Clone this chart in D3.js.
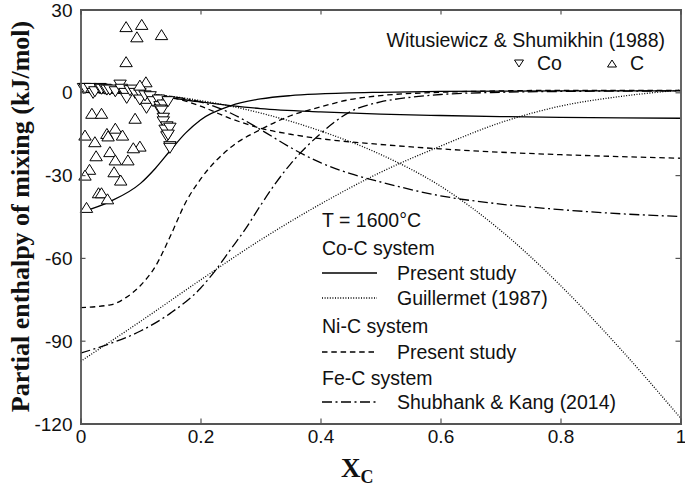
<!DOCTYPE html>
<html lang="en">
<head>
    <meta charset="UTF-8">
    <title>Partial enthalpy of mixing</title>
    <script src="https://d3js.org/d3.v7.min.js"></script>
    <style>
        body { margin: 0; background: #fff; }
        svg { display: block; }
        .tick-label { font: 19px "Liberation Sans", Arial, sans-serif; fill: #111; }
        .legend-text { font: 19.5px "Liberation Sans", Arial, sans-serif; fill: #111; }
        .axis-title { font-family: "Liberation Serif", "Times New Roman", serif; font-weight: bold; fill: #111; }
        .curve { fill: none; stroke: #000; stroke-width: 1.3; }
        .marker { fill: #fff; stroke: #000; stroke-width: 1; }
    </style>
</head>
<body>
<svg id="chart" width="685" height="492"></svg>
<script>
    // axis ticks
    const xTicks = [0, 0.2, 0.4, 0.6, 0.8, 1];
    const yTicks = [30, 0, -30, -60, -90, -120];

    // Co-C, present study (solid)
    const coPresentC  = [[0,-43.5],[0.05,-39.5],[0.1,-33],[0.125,-27.5],[0.15,-21],[0.175,-14.8],[0.2,-10],[0.25,-4.9],[0.3,-2.4],[0.35,-1.2],[0.4,-0.6],[0.5,0],[0.6,0.3],[0.8,0.5],[1,0.5]];
    const coPresentCo = [[0,0],[0.05,-0.2],[0.1,-0.8],[0.15,-2],[0.2,-3.5],[0.25,-4.8],[0.3,-5.9],[0.4,-7.1],[0.5,-7.9],[0.6,-8.4],[0.7,-8.8],[0.8,-9.1],[0.9,-9.3],[1,-9.4]];
    // Co-C, Guillermet (1987) (dotted)
    const guillermetC  = [[0,-97.5],[0.1,-83],[0.2,-68],[0.3,-53.5],[0.4,-40.5],[0.5,-29],[0.6,-19.5],[0.7,-11],[0.8,-5],[0.9,-1.5],[1,0.8]];
    const guillermetCo = [[0,0],[0.1,-0.5],[0.2,-3],[0.3,-7.5],[0.4,-14],[0.5,-22.5],[0.6,-34],[0.7,-50],[0.8,-70],[0.9,-93],[1,-118]];
    // Ni-C, present study (dashed)
    const niPresentC  = [[0,-78],[0.05,-77],[0.075,-74.5],[0.1,-70],[0.125,-63],[0.15,-52],[0.175,-40],[0.2,-31.5],[0.25,-20],[0.3,-13.5],[0.35,-8.5],[0.4,-5.3],[0.45,-2.6],[0.5,-1.2],[0.6,0],[0.7,0.5],[0.8,0.7],[1,0.7]];
    const niPresentNi = [[0,0],[0.05,-0.2],[0.1,-0.6],[0.15,-1.8],[0.2,-5],[0.25,-9.5],[0.3,-13],[0.35,-15.2],[0.4,-16.8],[0.5,-18.9],[0.6,-20.5],[0.7,-21.7],[0.8,-22.6],[0.9,-23.3],[1,-23.9]];
    // Fe-C, Shubhank & Kang (2014) (dash-dot)
    const feShubhankC  = [[0,-94.5],[0.05,-91],[0.1,-86.5],[0.15,-80],[0.2,-71],[0.225,-64.5],[0.25,-57],[0.275,-49.5],[0.3,-41],[0.325,-33],[0.35,-26],[0.4,-15],[0.45,-7],[0.5,-3.5],[0.55,-1.8],[0.6,-0.8],[0.7,0],[0.8,0.3],[1,0.5]];
    const feShubhankFe = [[0,0],[0.1,-0.5],[0.15,-1.5],[0.2,-3.5],[0.25,-7.5],[0.3,-13.5],[0.35,-20],[0.4,-25.5],[0.45,-29.5],[0.5,-32.5],[0.6,-37.5],[0.7,-40.5],[0.8,-42.5],[0.9,-44],[1,-45]];

    // Witusiewicz & Shumikhin (1988) points
    const expCo = [[0.005,1.4],[0.0075,1.4],[0.016,1.4],[0.021,-0.4],[0.024,0.2],[0.0325,1.4],[0.035,1.1],[0.041,1.1],[0.044,0.8],[0.049,0.8],[0.058,0.2],[0.066,2.6],[0.068,1.1],[0.074,-0.4],[0.077,-2.2],[0.0825,0.6],[0.088,0.8],[0.091,-0.4],[0.099,-0.4],[0.099,-2.8],[0.1075,-1.3],[0.11,-5.8],[0.116,-1.6],[0.121,-3.4],[0.13,-2.8],[0.1325,-5.2],[0.138,-4.6],[0.1325,-6.4],[0.146,-3.4],[0.135,-6.8],[0.138,-9.4],[0.138,-10.7],[0.144,-12.5],[0.141,-13.7],[0.149,-13],[0.144,-16.1],[0.146,-15.5],[0.149,-19.7],[0.149,-20.3]];
    const expC = [[0.076,23.8],[0.102,24.6],[0.094,20.1],[0.135,20.9],[0.076,11.1],[0.109,3.8],[0.099,2.6],[0.019,-7.6],[0.035,-7.6],[0.091,-9.4],[0.0075,-15.5],[0.044,-14.9],[0.058,-13],[0.07,-15.5],[0.024,-17.9],[0.046,-15.8],[0.099,-19.5],[0.088,-20.1],[0.049,-21.5],[0.026,-23],[0.058,-24.5],[0.079,-24.5],[0.015,-27.9],[0.0075,-30],[0.056,-28.8],[0.067,-31.8],[0.03,-36.4],[0.035,-36.4],[0.045,-38.6],[0.01,-41.7]];

    const series = [
        {data: coPresentC,   dash: null},
        {data: coPresentCo,  dash: null},
        {data: guillermetC,  dash: "1,1.6"},
        {data: guillermetCo, dash: "1,1.6"},
        {data: niPresentC,   dash: "5.5,3.8"},
        {data: niPresentNi,  dash: "5.5,3.8"},
        {data: feShubhankC,  dash: "10,3.5,2,3.5"},
        {data: feShubhankFe, dash: "10,3.5,2,3.5"}
    ];

    const margin = {top: 9.5, right: 4.5, bottom: 68.5, left: 80.5},
        W = 685, H = 492,
        width = W - margin.left - margin.right,
        height = H - margin.top - margin.bottom;

    const svg = d3.select("#chart");
    svg.append("rect").attr("width", W).attr("height", H).attr("fill", "#fff");

    const g = svg.append("g").attr("transform", `translate(${margin.left},${margin.top})`);

    const x = d3.scaleLinear().domain([0, 1]).range([0, width]);
    const y = d3.scaleLinear().domain([-120, 30]).range([height, 0]);

    g.append("clipPath").attr("id", "plot-clip")
        .append("rect").attr("width", width).attr("height", height);

    const line = d3.line()
        .x(d => x(d[0]))
        .y(d => y(d[1]))
        .curve(d3.curveMonotoneX);

    const curves = g.append("g").attr("clip-path", "url(#plot-clip)");
    series.forEach(s => {
        curves.append("path")
            .attr("class", "curve")
            .attr("d", line(s.data))
            .attr("stroke-dasharray", s.dash);
    });

    // markers
    const up = "M0,-5L6.2,5L-6.2,5Z";
    const down = "M0,5L6.2,-5L-6.2,-5Z";
    const pts = g.append("g");
    pts.selectAll(".co").data(expCo).enter().append("path")
        .attr("class", "marker")
        .attr("d", down)
        .attr("transform", d => `translate(${x(d[0])},${y(d[1])})`);
    pts.selectAll(".c").data(expC).enter().append("path")
        .attr("class", "marker")
        .attr("d", up)
        .attr("transform", d => `translate(${x(d[0])},${y(d[1])})`);

    // axes (frame with inward ticks)
    const axisColor = "#555";
    const axes = [
        g.append("g").attr("transform", `translate(0,${height})`).call(d3.axisBottom(x).tickValues(xTicks).tickSize(-5).tickFormat(d3.format("~g"))),
        g.append("g").call(d3.axisTop(x).tickValues(xTicks).tickSize(-5).tickFormat("")),
        g.append("g").call(d3.axisLeft(y).tickValues(yTicks).tickSize(-5).tickFormat(d3.format("d"))),
        g.append("g").attr("transform", `translate(${width},0)`).call(d3.axisRight(y).tickValues(yTicks).tickSize(-5).tickFormat(""))
    ];
    axes.forEach(a => {
        a.select(".domain").attr("stroke", axisColor).attr("stroke-width", 1.8);
        a.selectAll(".tick line").attr("stroke", axisColor).attr("stroke-width", 1.2);
        a.selectAll(".tick text").attr("class", "tick-label").attr("font-family", null).attr("font-size", null);
    });
    axes[0].selectAll(".tick text").attr("dy", "0.71em").attr("y", 6);
    axes[2].selectAll(".tick text").attr("x", -8).attr("dy", "0.35em");
    axes[2].selectAll(".tick text").text(d => d === 0 ? "0" : d3.format("d")(d).replace("\u2212", "-"));

    // axis titles
    svg.append("text")
        .attr("class", "axis-title")
        .attr("transform", `translate(29,${margin.top + height / 2}) rotate(-90)`)
        .attr("text-anchor", "middle")
        .attr("font-size", 26)
        .text("Partial enthalpy of mixing (kJ/mol)");

    const xt = svg.append("text")
        .attr("class", "axis-title")
        .attr("x", 341)
        .attr("y", 477)
        .attr("font-size", 27);
    xt.append("tspan").text("X");
    xt.append("tspan").attr("font-size", 18).attr("dy", 6).text("C");

    // legend: experimental points
    svg.append("text").attr("class", "legend-text")
        .attr("x", 665).attr("y", 47).attr("text-anchor", "end")
        .text("Witusiewicz & Shumikhin (1988)");
    const legTri = [
        {path: "M0,3.5L4.5,-3.5L-4.5,-3.5Z", tx: 519, label: "Co"},
        {path: "M0,-3.5L4.5,3.5L-4.5,3.5Z", tx: 612, label: "C"}
    ];
    legTri.forEach(t => {
        svg.append("path").attr("class", "marker").attr("d", t.path)
            .attr("transform", `translate(${t.tx},63.5)`);
        svg.append("text").attr("class", "legend-text")
            .attr("x", t.tx + 18).attr("y", 70).text(t.label);
    });

    // legend: curves
    const legend = [
        {text: "T = 1600\u00b0C", y: 227, x: 322},
        {text: "Co-C system", y: 255, x: 322},
        {text: "Present study", y: 280, x: 397, dash: null},
        {text: "Guillermet (1987)", y: 305, x: 397, dash: "1,1.6"},
        {text: "Ni-C system", y: 333, x: 322},
        {text: "Present study", y: 359, x: 397, dash: "5.5,3.8"},
        {text: "Fe-C system", y: 385, x: 322},
        {text: "Shubhank & Kang (2014)", y: 409, x: 397, dash: "10,3.5,2,3.5"}
    ];
    legend.forEach(l => {
        svg.append("text").attr("class", "legend-text")
            .attr("x", l.x).attr("y", l.y).text(l.text);
        if (l.x > 322) {
            svg.append("line").attr("class", "curve")
                .attr("x1", 322).attr("x2", 377)
                .attr("y1", l.y - 7).attr("y2", l.y - 7)
                .attr("stroke-dasharray", l.dash);
        }
    });
</script>
</body>
</html>
